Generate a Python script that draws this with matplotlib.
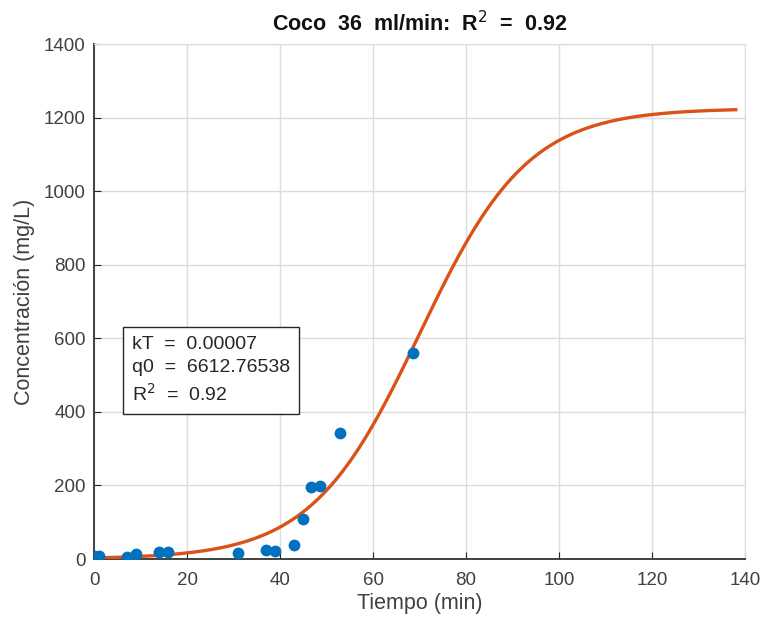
import numpy as np
import matplotlib.pyplot as plt

plt.rcParams['font.family'] = ['Liberation Sans', 'DejaVu Sans']

# measured breakthrough points (Coco, 36 ml/min)
tiempo = [0, 1, 7, 9, 14, 16, 31, 37, 39, 43, 45, 46.6, 48.7, 53, 68.5]
conc = [8, 8, 6, 13, 18, 18, 17, 24, 22, 37, 109, 195, 199, 343, 560]

# Thomas model parameters
kT = 0.00007
q0 = 6612.76538
C0 = 1225.0
m_Q = 12.97  # mass / flow
r2 = 0.92

t_fit = np.linspace(0, 138, 400)
c_fit = C0 / (1 + np.exp(kT * q0 * m_Q - kT * C0 * t_fit))

fig = plt.figure(figsize=(7.65, 6.21), dpi=100)
ax = fig.add_axes([0.1229, 0.0998, 0.8510, 0.8293])

ax.plot(t_fit, c_fit, color='#D95319', lw=2.4, zorder=3)
ax.plot(tiempo, conc, 'o', color='#0072BD', ms=8.5, mec='none', zorder=4)

ax.set_xlim(0, 140)
ax.set_ylim(0, 1400)
ax.set_xticks(np.arange(0, 141, 20))
ax.set_yticks(np.arange(0, 1401, 200))
ax.grid(True, color='#dcdcdc', lw=1)
ax.set_axisbelow(True)
ax.tick_params(direction='in', length=5, labelsize=13.5, colors='#262626',
               labelcolor='#404040', top=False, right=False)
ax.tick_params(axis='x', pad=9)
ax.tick_params(axis='y', pad=6)
for s in ['left', 'bottom']:
    ax.spines[s].set_color('#404040')
    ax.spines[s].set_linewidth(1.4)
for s in ['top', 'right']:
    ax.spines[s].set_color('#dcdcdc')

ax.set_xlabel('Tiempo (min)', fontsize=15.5, color='#404040', labelpad=3)
ax.set_ylabel('Concentración (mg/L)', fontsize=15.5, color='#404040', labelpad=6)
ax.set_title('Coco  36  ml/min:  R$^2$  =  0.92', fontsize=15.5,
             fontweight='bold', color='#111111', pad=9)

txt = ('kT  =  {:.5f}\nq0  =  {:.5f}\nR$^2$  =  {:.2f}'.format(kT, q0, r2))
ax.text(8.2, 606, txt, fontsize=14, color='#262626', va='top', ha='left',
        linespacing=1.42,
        bbox=dict(boxstyle='square,pad=0.45', fc='white', ec='#262626', lw=1))

fig.savefig('out.png', dpi=100)
